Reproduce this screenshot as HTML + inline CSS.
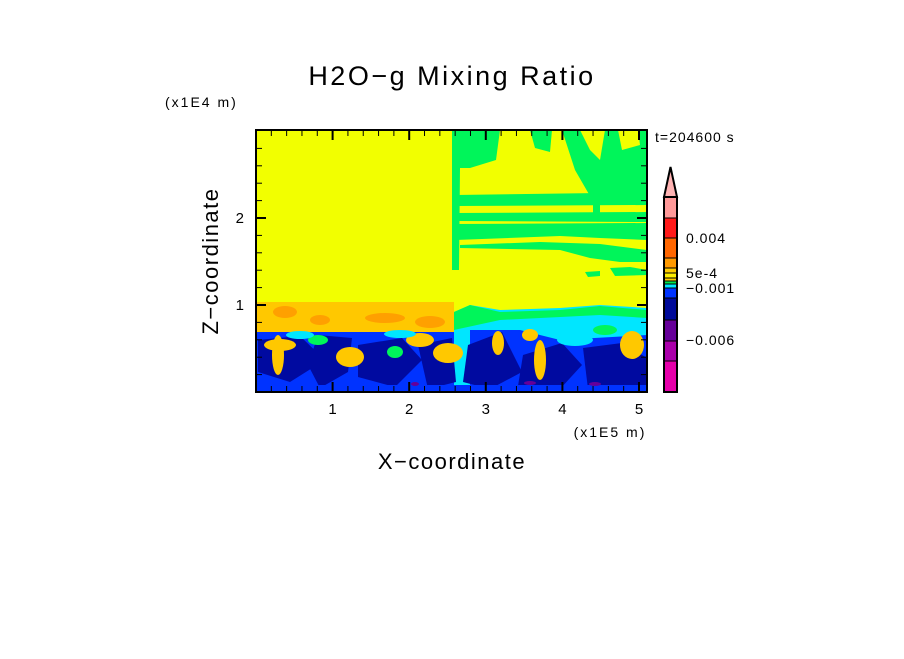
<!DOCTYPE html>
<html><head><meta charset="utf-8"><style>
body{margin:0;background:#fff}
svg text{font-family:"Liberation Sans",sans-serif}
</style></head><body>
<svg width="904" height="654" xmlns="http://www.w3.org/2000/svg">
<defs><clipPath id="pc"><rect x="256" y="130" width="391" height="262"/></clipPath></defs>
<text x="452" y="85" font-size="27" letter-spacing="2.5" text-anchor="middle">H2O−g Mixing Ratio</text>
<text x="165" y="107" font-size="14" letter-spacing="2">(x1E4 m)</text>
<text x="655" y="142" font-size="14" letter-spacing="1">t=204600 s</text>
<g id="field" clip-path="url(#pc)">
<rect x="256" y="130" width="391" height="262" fill="#f2ff00"/>
<g fill="#00f55a">
<path d="M452,130 L500,130 L496,160 L470,168 L460,168 L459,270 L452,270 Z"/>
<path d="M530,130 L552,130 L550,152 L535,148 Z"/>
<path d="M562,130 L580,130 L590,150 L600,160 L605,130 L618,130 L622,150 L640,145 L638,130 L647,130 L647,200 L590,196 L575,170 Z"/>
<path d="M455,195 L600,193 L647,196 L647,205 L455,206 Z"/>
<path d="M593,205 L600,205 L600,213 L593,213 Z"/>
<path d="M455,213 L647,212 L647,222 L455,221 Z"/>
<path d="M455,224 L647,223 L647,240 L600,238 L560,236 L455,240 Z"/>
<path d="M460,245 L540,242 L600,244 L647,250 L647,262 L620,262 L590,258 L560,250 L460,248 Z"/>
<path d="M610,268 L630,267 L647,270 L647,275 L615,276 Z"/>
<path d="M585,272 L600,271 L600,276 L588,277 Z"/>
</g>
<rect x="256" y="302" width="198" height="30" fill="#ffc800"/>
<g fill="#ffa000">
<ellipse cx="285" cy="312" rx="12" ry="6"/><ellipse cx="320" cy="320" rx="10" ry="5"/><ellipse cx="385" cy="318" rx="20" ry="5"/><ellipse cx="430" cy="322" rx="15" ry="6"/>
</g>
<path d="M454,312 L470,305 L500,310 L560,308 L600,305 L647,308 L647,392 L454,392 Z" fill="#00e6ff"/>
<path d="M454,312 L470,305 L500,312 L560,310 L600,306 L647,310 L647,318 L600,315 L500,320 L454,330 Z" fill="#00f55a"/>
<path d="M256,332 L454,332 L454,392 L256,392 Z" fill="#0033ff"/>
<path d="M470,330 L520,330 L560,340 L647,335 L647,392 L470,392 Z" fill="#0033ff"/>
<g fill="#000aa0">
<path d="M258,340 L300,336 L325,360 L290,382 L258,372 Z"/>
<path d="M318,335 L352,338 L348,372 L320,388 L308,365 Z"/>
<path d="M358,345 L402,338 L422,360 L395,387 L358,377 Z"/>
<path d="M418,345 L452,338 L456,382 L428,389 Z"/>
<path d="M468,345 L502,332 L522,372 L490,389 L463,382 Z"/>
<path d="M523,355 L562,343 L582,365 L560,389 L518,386 Z"/>
<path d="M583,348 L622,343 L647,358 L647,389 L588,389 Z"/>
</g>
<g fill="#00f55a"><ellipse cx="318" cy="340" rx="10" ry="5"/><ellipse cx="395" cy="352" rx="8" ry="6"/><ellipse cx="605" cy="330" rx="12" ry="5"/></g>
<g fill="#ffc800">
<ellipse cx="350" cy="357" rx="14" ry="10"/><ellipse cx="448" cy="353" rx="15" ry="10"/>
<ellipse cx="278" cy="355" rx="6" ry="20"/><ellipse cx="540" cy="360" rx="6" ry="20"/>
<ellipse cx="632" cy="345" rx="12" ry="14"/><ellipse cx="280" cy="345" rx="16" ry="6"/>
<ellipse cx="420" cy="340" rx="14" ry="7"/><ellipse cx="498" cy="343" rx="6" ry="12"/>
<ellipse cx="530" cy="335" rx="8" ry="6"/>
</g>
<g fill="#00e6ff">
<ellipse cx="300" cy="335" rx="14" ry="4"/><ellipse cx="400" cy="334" rx="16" ry="4"/>
<ellipse cx="575" cy="340" rx="18" ry="6"/>
</g>
<rect x="256" y="385" width="391" height="7" fill="#0033ff"/>
<g fill="#660099"><ellipse cx="530" cy="383" rx="6" ry="2"/><ellipse cx="595" cy="384" rx="6" ry="2"/><ellipse cx="415" cy="384" rx="4" ry="2"/></g>
</g>
<rect x="256" y="130" width="391" height="262" fill="none" stroke="#000" stroke-width="2"/>
<g id="axes"></g>
<text x="610" y="437" font-size="14" letter-spacing="2" text-anchor="middle">(x1E5 m)</text>
<text x="452" y="469" font-size="22" letter-spacing="1.5" text-anchor="middle">X−coordinate</text>
<text x="0" y="0" font-size="22" letter-spacing="1.5" text-anchor="middle" transform="translate(218,261) rotate(-90)">Z−coordinate</text>
<g id="cbar"></g>
</svg>
<script>
const xTicks=[1,2,3,4,5];
const zTicks=[1,2];
const cbColors=["#ff9999","#ff1a1a","#ff6600","#ff9900","#ffcc00","#ffee00","#ffcc00","#00e64d","#00e6ff","#0033ff","#000a99","#660099","#aa00aa","#e600aa"];
const cbBounds=[197,218,238,258,268,273,278,281,284,288,298,320,341,361,392];
const cbLabels=["0.004","5e-4","−0.001","−0.006"];
const cbLabelY=[238,273,288,340];
const NS="http://www.w3.org/2000/svg";
const xs=v=>256+v*76.6, zs=v=>392-v*87;
const ax=document.getElementById('axes');
function mk(tag,a,p){const e=document.createElementNS(NS,tag);for(const k in a)e.setAttribute(k,a[k]);p.appendChild(e);return e;}
for(let v=0.2;v<5.11;v+=0.2){const major=Math.abs(v-Math.round(v))<1e-6;const x=xs(v);
 const l=mk('line',{x1:x,x2:x,y1:392,y2:392-(major?10:6),stroke:'#000','stroke-width':major?2:1},ax);
 
 const l2=mk('line',{x1:x,x2:x,y1:130,y2:130+(major?10:6),stroke:'#000','stroke-width':major?2:1},ax);
 }
for(let v=0.2;v<3;v+=0.2){const major=Math.abs(v-Math.round(v))<1e-6;const y=zs(v);
 const l=mk('line',{x1:256,x2:256+(major?10:6),y1:y,y2:y,stroke:'#000','stroke-width':major?2:1},ax);
 
 const l2=mk('line',{x1:647,x2:647-(major?10:6),y1:y,y2:y,stroke:'#000','stroke-width':major?2:1},ax);
 }
xTicks.forEach(v=>{const t=mk('text',{x:xs(v),y:414,'font-size':15,'text-anchor':'middle'},ax);t.textContent=v;
 });
zTicks.forEach(v=>{const t=mk('text',{x:244,y:zs(v)+5,'font-size':15,'text-anchor':'end'},ax);t.textContent=v;
 });
const cb=document.getElementById('cbar');
const tri=mk('polygon',{points:'664,197 677,197 670.5,167',fill:'#ffb3b3',stroke:'#000','stroke-width':2},cb);

cbColors.forEach((c,i)=>{const r=mk('rect',{x:664,y:cbBounds[i],width:13,height:cbBounds[i+1]-cbBounds[i],fill:c,stroke:'#000','stroke-width':1},cb);
 });
const fr=mk('rect',{x:664,y:197,width:13,height:195,fill:'none',stroke:'#000','stroke-width':2},cb);

cbLabels.forEach((s,i)=>{const t=mk('text',{x:686,y:cbLabelY[i]+5,'font-size':14,'letter-spacing':1},cb);t.textContent=s;
 });
</script>
</body></html>
